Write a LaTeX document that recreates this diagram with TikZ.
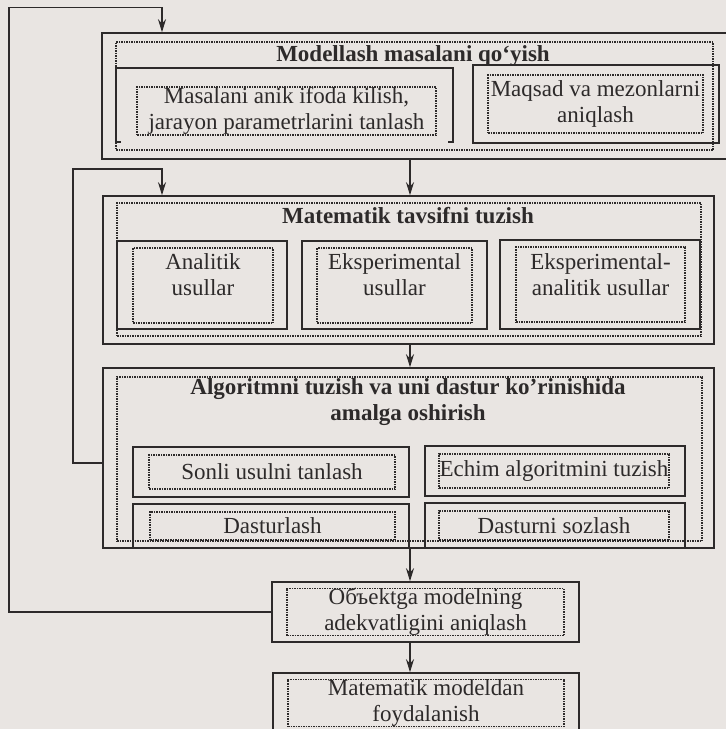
\documentclass[tikz,border=0pt]{standalone}
\usepackage{fontspec}
\setmainfont{Liberation Serif}
\usetikzlibrary{arrows.meta, positioning}
\definecolor{paper}{RGB}{233,229,226}
\definecolor{ink}{RGB}{45,42,42}

\begin{document}
\begin{tikzpicture}[
            x=1pt, y=-1pt,
            frame/.style={rectangle, draw=ink, line width=1.6pt, inner sep=0pt},
            dotbox/.style={rectangle, draw=ink, densely dotted, line width=1.5pt, inner sep=0pt},
            txt/.style={align=center, text=ink, inner sep=0pt, font=\fontsize{23}{26}\selectfont},
            title/.style={txt, font=\fontsize{23}{26}\selectfont\bfseries},
            arrow/.style={-{Stealth[length=13pt, width=8pt]}, draw=ink, line width=1.4pt}
        ]
            \useasboundingbox (0,0) rectangle (726,729);
            \fill[paper] (0,0) rectangle (726,729);
            \clip (0,0) rectangle (726,729);

            % Modellash masalani qo'yish
            \node[frame, minimum width=638pt, minimum height=126pt] (model_box) at (421,96) {};
            \node[dotbox, minimum width=597pt, minimum height=108pt] (model_dot) at (414.5,96) {};
            \node[title] (model_title) at (413,56) {Modellash masalani qo‘yish};
            \node[inner sep=0pt, minimum width=337pt, minimum height=74pt] (anik_box) at (284.5,105) {};
            \draw[ink, line width=1.6pt] ([xshift=5pt]anik_box.south west) -- (anik_box.south west) -- (anik_box.north west)
                -- (anik_box.north east) -- (anik_box.south east) -- ([xshift=-5pt]anik_box.south east);
            \node[dotbox, txt, minimum width=299pt, minimum height=48pt] (anik) at (286.5,111) {Masalani anik ifoda kilish,\\jarayon parametrlarini tanlash};
            \node[frame, minimum width=246pt, minimum height=78pt] (maqsad_box) at (596,104) {};
            \node[dotbox, txt, minimum width=215pt, minimum height=58pt] (maqsad) at (595.5,104) {Maqsad va mezonlarni\\aniqlash};

            % Matematik tavsifni tuzish
            \node[frame, minimum width=611pt, minimum height=148pt] (tavsif_box) at (408.5,270) {};
            \node[dotbox, minimum width=584pt, minimum height=133pt] (tavsif_dot) at (409,269.5) {};
            \node[title] (tavsif_title) at (408,216) {Matematik tavsifni tuzish};
            \node[frame, minimum width=170pt, minimum height=88pt] (analitik_box) at (202,285) {};
            \node[dotbox, minimum width=140pt, minimum height=75pt] (analitik_dot) at (203,285.5) {};
            \node[txt] (analitik) at (203,275) {Analitik\\usullar};
            \node[frame, minimum width=185pt, minimum height=88pt] (eksp_box) at (394.5,285) {};
            \node[dotbox, minimum width=155pt, minimum height=75pt] (eksp_dot) at (394.5,285.5) {};
            \node[txt] (eksp) at (394.5,275) {Eksperimental\\usullar};
            \node[frame, minimum width=200pt, minimum height=89pt] (ekspan_box) at (600,284.5) {};
            \node[dotbox, minimum width=169pt, minimum height=75pt] (ekspan_dot) at (600.5,284.5) {};
            \node[txt] (ekspan) at (600.5,275) {Eksperimental-\\analitik usullar};

            % Algoritmni tuzish
            \node[frame, minimum width=611pt, minimum height=180pt] (algo_box) at (408.5,458) {};
            \node[dotbox, minimum width=585pt, minimum height=164pt] (algo_dot) at (409.5,459) {};
            \node[title] (algo_title) at (408,402) {Algoritmni tuzish va uni dastur ko'rinishida\\amalga oshirish};
            \node[frame, minimum width=276pt, minimum height=50pt] (sonli_box) at (271,472) {};
            \node[dotbox, txt, minimum width=246pt, minimum height=34pt] (sonli) at (272,472) {Sonli usulni tanlash};
            \node[frame, minimum width=260pt, minimum height=50pt] (echim_box) at (555,471) {};
            \node[dotbox, txt, minimum width=230pt, minimum height=34pt] (echim) at (554,471) {Echim algoritmini tuzish};
            \node[frame, minimum width=276pt, minimum height=44pt] (dastur_box) at (271,526) {};
            \node[dotbox, txt, minimum width=245pt, minimum height=28pt] (dastur) at (272.5,526) {Dasturlash};
            \node[frame, minimum width=260pt, minimum height=45pt] (sozlash_box) at (555,525.5) {};
            \node[dotbox, txt, minimum width=230pt, minimum height=29pt] (sozlash) at (554,525.5) {Dasturni sozlash};

            % adekvatlik, foydalanish
            \node[frame, minimum width=307pt, minimum height=60pt] (adekv_box) at (425.5,612) {};
            \node[dotbox, txt, minimum width=277pt, minimum height=44pt] (adekv) at (425.5,612) {Объektga modelning\\adekvatligini aniqlash};
            \node[frame, minimum width=306pt, minimum height=72pt] (foyda_box) at (426,709) {};
            \node[dotbox, txt, minimum width=276pt, minimum height=44pt] (foyda) at (426,703) {Matematik modeldan\\foydalanish};

            % connectors
            \coordinate (spine) at (410,0);
            \coordinate (entry) at (162,0);
            \coordinate (loop_outer) at (9,7.5);
            \coordinate (loop_inner) at (73,169);
            \draw[arrow] (model_box.south -| spine) -- (tavsif_box.north -| spine);
            \draw[arrow] (tavsif_box.south -| spine) -- (algo_box.north -| spine);
            \draw[arrow] (algo_box.south -| spine) -- (adekv_box.north -| spine);
            \draw[arrow] (adekv_box.south -| spine) -- (foyda_box.north -| spine);
            \draw[arrow] (adekv_box.west) -| (loop_outer) -| (model_box.north -| entry);
            \draw[arrow] ([yshift=-5pt]algo_box.west) -| (loop_inner) -| (tavsif_box.north -| entry);
        \end{tikzpicture}
\end{document}
